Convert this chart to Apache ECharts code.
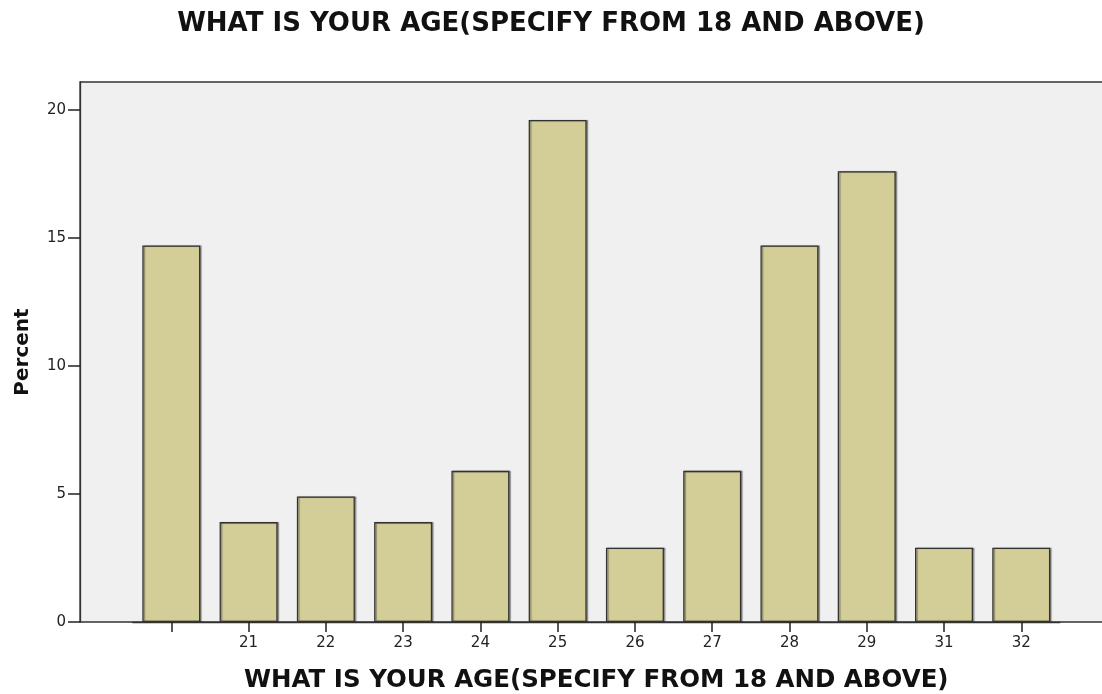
<!DOCTYPE html>
<html>
<head>
<meta charset="utf-8">
<style>
  html, body { margin: 0; padding: 0; background: #fff; }
  #chart { width: 1102px; height: 694px; }
</style>
<script src="https://cdn.jsdelivr.net/npm/echarts@6/dist/echarts.min.js"></script>
</head>
<body>
<div id="chart"></div>
<script>
// age groups (first bar has no label in the original output)
var ages = ['', '21', '22', '23', '24', '25', '26', '27', '28', '29', '31', '32']
var percent = [14.7, 3.9, 4.9, 3.9, 5.9, 19.6, 2.9, 5.9, 14.7, 17.6, 2.9, 2.9]
var yTicks = [0, 5, 10, 15, 20]

var chart = echarts.init(document.getElementById('chart'))
var titleText = 'WHAT IS YOUR AGE(SPECIFY FROM 18 AND ABOVE)'
var yMax = 21.08

chart.setOption({
  animation: false,
  title: {
    text: titleText,
    left: 'center',
    top: 6,
    textStyle: { fontFamily: 'DejaVu Sans', fontWeight: 'bold', fontSize: 26, color: '#111' }
  },
  grid: [
    // plot frame + background
    { left: 80, right: -3, top: 82, bottom: 72, outerBoundsMode: 'none', show: true, backgroundColor: '#f0f0f0', borderColor: '#333', borderWidth: 1.3 },
    // bars
    { left: 132.7, right: 42.1, top: 82, bottom: 72, outerBoundsMode: 'none' }
  ],
  xAxis: [
    { gridIndex: 0, type: 'value', min: 0, max: 1, show: false },
    {
      gridIndex: 1,
      type: 'category',
      data: ages,
      axisLine: { show: true, lineStyle: { color: '#333', width: 1.3 } },
      axisTick: { show: true, alignWithLabel: true, length: 10, lineStyle: { color: '#222', width: 1.5 } },
      axisLabel: { fontFamily: 'DejaVu Sans', fontSize: 15, color: '#222', margin: 14 },
      name: titleText,
      nameLocation: 'middle',
      nameGap: 46,
      nameTextStyle: { fontFamily: 'DejaVu Sans', fontWeight: 'bold', fontSize: 24.5, color: '#111' }
    }
  ],
  yAxis: [
    {
      gridIndex: 0,
      type: 'value',
      min: 0,
      max: yMax,
      interval: 5,
      splitLine: { show: false },
      axisLine: { show: true, lineStyle: { color: '#333', width: 1.3 } },
      axisTick: { show: true, length: 12, customValues: yTicks, lineStyle: { color: '#222', width: 1.5 } },
      axisLabel: {
        fontFamily: 'DejaVu Sans', fontSize: 15, color: '#222', margin: 14,
        customValues: yTicks
      },
      name: 'Percent',
      nameLocation: 'middle',
      nameGap: 47,
      nameTextStyle: { fontFamily: 'DejaVu Sans', fontWeight: 'bold', fontSize: 20, color: '#111' }
    },
    { gridIndex: 1, type: 'value', min: 0, max: yMax, show: false, splitLine: { show: false } }
  ],
  series: [
    {
      type: 'bar',
      xAxisIndex: 1,
      yAxisIndex: 1,
      data: percent,
      barWidth: 58,
      itemStyle: {
        color: '#d3ce98',
        borderColor: '#333',
        borderWidth: 1.3,
        shadowColor: 'rgba(0,0,0,0.35)',
        shadowOffsetX: 1.5,
        shadowBlur: 1
      }
    }
  ]
})
</script>
</body>
</html>
